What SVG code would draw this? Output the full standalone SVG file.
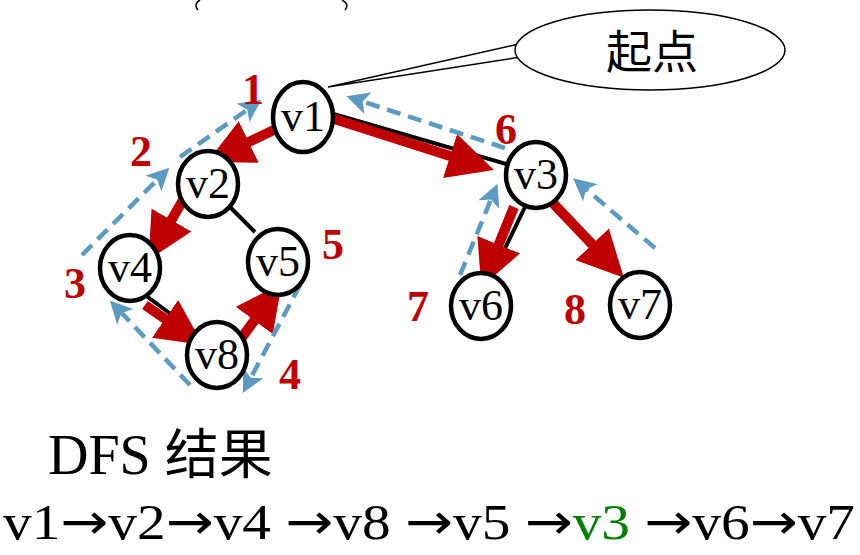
<svg xmlns="http://www.w3.org/2000/svg" width="860" height="555" viewBox="0 0 860 555">
<style>
.n ellipse{fill:#fff;stroke:#000;stroke-width:4.5}
.n text{font-family:"Liberation Serif",serif;font-size:44px;text-anchor:middle}
.r{stroke:#c00000;stroke-width:10;fill:none;marker-end:url(#ra)}
.b{stroke:#5b9bc1;stroke-width:4.5;stroke-dasharray:14 8;fill:none;marker-end:url(#ba)}
.k{stroke:#000;stroke-width:4}
.num{font-family:"Liberation Serif",serif;font-weight:bold;font-size:44px;fill:#c00000;text-anchor:middle}
.ar{font-family:"DejaVu Sans",sans-serif}
</style>
<defs>
<marker id="ra" markerWidth="4.6" markerHeight="4.6" refX="2.3" refY="2.3" orient="auto" markerUnits="strokeWidth"><path d="M0,0L4.6,2.3L0,4.6z" fill="#c00000"/></marker>
<marker id="ba" markerWidth="5" markerHeight="5" refX="3" refY="2.5" orient="auto" markerUnits="strokeWidth"><path d="M0,0L5,2.5L0,5L1.2,2.5z" fill="#5b9bc1"/></marker>
</defs>
<rect width="860" height="555" fill="#fff"/>
<path d="M200,0 Q193,4 198,10 M342,0 Q350,4 345,10" stroke="#000" stroke-width="1.5" fill="none"/>
<g id="callout">
<path d="M328,87 L528,42 M328,87 L527,56" stroke="#000" stroke-width="1.5" fill="none"/>
<ellipse cx="650" cy="50" rx="135" ry="40" fill="#fff" stroke="#000" stroke-width="1.5"/>
<text x="652" y="68" font-family="Noto Sans CJK SC,sans-serif" font-size="46" text-anchor="middle">起点</text>
</g>
<g id="connectors">
<line class="k" x1="330" y1="113" x2="510" y2="165"/>
<line class="k" x1="230" y1="207" x2="255" y2="232"/>
<line class="k" x1="145" y1="295" x2="195" y2="332"/>
<line class="k" x1="526" y1="205" x2="492" y2="275"/>
<path class="r" d="M278,128 L228,152"/>
<path class="r" d="M328,117 L472,163"/>
<path class="r" d="M183,200 L160,240"/>
<path class="r" d="M145,305 L184,332"/>
<path class="r" d="M240,340 L268,302"/>
<path class="r" d="M514,207 L490,266"/>
<path class="r" d="M550,200 L608,261"/>
<path class="b" d="M82,255 L163,174"/>
<path class="b" d="M180,157 L254,105"/>
<path class="b" d="M505,148 L355,99"/>
<path class="b" d="M190,385 L116,307"/>
<path class="b" d="M300,285 L247,385"/>
<path class="b" d="M460,275 L494,192"/>
<path class="b" d="M655,248 L580,184"/>
</g>
<g id="v1" class="n"><ellipse cx="303" cy="117" rx="30" ry="35"/><text x="303" y="131">v1</text></g>
<g id="v2" class="n"><ellipse cx="208" cy="184" rx="30" ry="33"/><text x="208" y="198">v2</text></g>
<g id="v4" class="n"><ellipse cx="130" cy="268" rx="30" ry="33"/><text x="130" y="282">v4</text></g>
<g id="v5" class="n"><ellipse cx="278" cy="262" rx="30" ry="33"/><text x="278" y="276">v5</text></g>
<g id="v8" class="n"><ellipse cx="217" cy="355" rx="30" ry="33"/><text x="217" y="369">v8</text></g>
<g id="v3" class="n"><ellipse cx="536" cy="175" rx="30" ry="33"/><text x="536" y="189">v3</text></g>
<g id="v6" class="n"><ellipse cx="481" cy="306" rx="30" ry="33"/><text x="481" y="320">v6</text></g>
<g id="v7" class="n"><ellipse cx="640" cy="305" rx="30" ry="33"/><text x="640" y="319">v7</text></g>
<g id="labels">
<text class="num" x="253" y="104">1</text>
<text class="num" x="141" y="166">2</text>
<text class="num" x="75" y="298">3</text>
<text class="num" x="290" y="389">4</text>
<text class="num" x="333" y="259">5</text>
<text class="num" x="506" y="144">6</text>
<text class="num" x="418" y="321">7</text>
<text class="num" x="575" y="324">8</text>
</g>
<text x="48" y="474" font-family="Liberation Serif,serif" font-size="56">DFS <tspan font-family="Noto Sans CJK SC,sans-serif" font-size="54">结果</tspan></text>
<text x="3" y="539" font-family="Liberation Serif,serif" font-size="50" textLength="852" lengthAdjust="spacingAndGlyphs">v1<tspan class="ar">→</tspan>v2<tspan class="ar">→</tspan>v4 <tspan class="ar">→</tspan>v8 <tspan class="ar">→</tspan>v5 <tspan class="ar">→</tspan><tspan fill="#008000">v3</tspan> <tspan class="ar">→</tspan>v6<tspan class="ar">→</tspan>v7</text>
</svg>
